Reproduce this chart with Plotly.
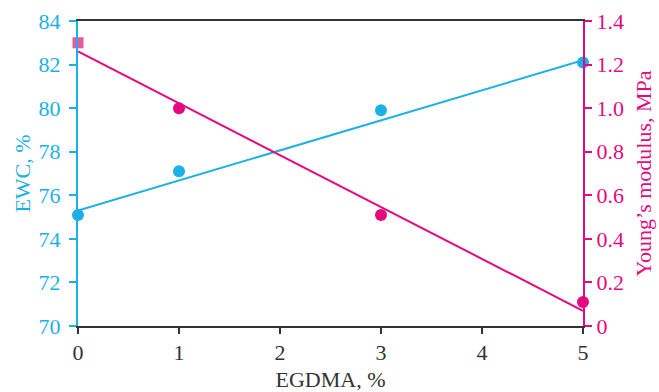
import plotly.graph_objects as go

egdma = [0, 1, 3, 5]
ewc = [75.1, 77.1, 79.9, 82.1]
modulus = [1.30, 1.00, 0.51, 0.11]
fit_x = [0, 5]
ewc_fit = [75.3, 82.2]
mod_fit = [1.26, 0.07]

BLUE = "#1BB1E7"
MAG = "#E5097F"
PINK = "#E9579C"
DARK = "#333333"
FONT = "Liberation Serif"
FS = 22

fig = go.Figure()
fig.add_trace(go.Scatter(x=fit_x, y=ewc_fit, mode="lines", line=dict(color=BLUE, width=2),
                         cliponaxis=False, showlegend=False, hoverinfo="skip"))
fig.add_trace(go.Scatter(x=egdma, y=ewc, mode="markers", marker=dict(color=BLUE, size=12),
                         cliponaxis=False, showlegend=False))
fig.add_trace(go.Scatter(x=fit_x, y=mod_fit, mode="lines", line=dict(color=MAG, width=2),
                         yaxis="y2", cliponaxis=False, showlegend=False, hoverinfo="skip"))
fig.add_trace(go.Scatter(x=egdma[1:], y=modulus[1:], mode="markers", marker=dict(color=MAG, size=12),
                         yaxis="y2", cliponaxis=False, showlegend=False))
fig.add_trace(go.Scatter(x=egdma[:1], y=modulus[:1], mode="markers",
                         marker=dict(color=PINK, size=11, symbol="square"),
                         yaxis="y2", cliponaxis=False, showlegend=False))

fig.update_layout(
    width=659, height=392,
    margin=dict(l=78, r=76, t=21, b=66),
    plot_bgcolor="white", paper_bgcolor="white",
    font=dict(family=FONT, size=FS),
    xaxis=dict(range=[0, 5], tickvals=[0, 1, 2, 3, 4, 5], showgrid=False, zeroline=False,
               showline=True, linecolor=DARK, linewidth=2, mirror=True, automargin=False,
               ticks="outside", ticklen=6, tickcolor=DARK, tickwidth=1.5,
               tickfont=dict(color=DARK, size=FS, family=FONT),
               title=dict(text="EGDMA, %", font=dict(color=DARK, size=FS, family=FONT), standoff=12)),
    yaxis=dict(range=[70, 84], tickvals=[70, 72, 74, 76, 78, 80, 82, 84], showgrid=False, zeroline=False,
               showline=True, linecolor=BLUE, linewidth=2, automargin=False,
               ticks="outside", ticklen=7, tickcolor=BLUE, tickwidth=1.5,
               tickfont=dict(color=BLUE, size=FS, family=FONT), ticklabelstandoff=4,
               title=dict(text="EWC, %", font=dict(color=BLUE, size=FS, family=FONT), standoff=2)),
    yaxis2=dict(range=[0, 1.4], tickvals=[0, 0.2, 0.4, 0.6, 0.8, 1.0, 1.2, 1.4],
                ticktext=["0", "0.2", "0.4", "0.6", "0.8", "1.0", "1.2", "1.4"],
                overlaying="y", side="right", showgrid=False, zeroline=False,
                showline=True, linecolor=MAG, linewidth=2, automargin=False,
                ticks="outside", ticklen=7, tickcolor=MAG, tickwidth=1.5,
                tickfont=dict(color=MAG, size=FS, family=FONT),
                title=dict(text="Young’s modulus, MPa", font=dict(color=MAG, size=FS, family=FONT), standoff=13)),
)

fig.write_html("out.html")
